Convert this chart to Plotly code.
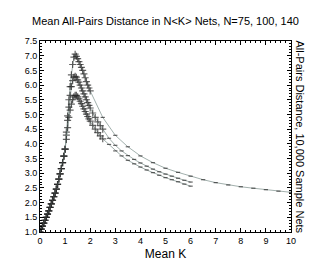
import plotly.graph_objects as go

# Shared rising section (K = 0 .. 1.0)
k_rise = [0.00, 0.05, 0.10, 0.15, 0.20, 0.25, 0.30, 0.35, 0.40, 0.45, 0.50,
          0.55, 0.60, 0.65, 0.70, 0.75, 0.80, 0.85, 0.90, 0.95, 1.00]
d_rise = [1.00, 1.10, 1.20, 1.30, 1.40, 1.50, 1.61, 1.72, 1.84, 1.96, 2.08,
          2.20, 2.32, 2.46, 2.62, 2.80, 2.98, 3.16, 3.36, 3.58, 3.82]

# N = 140
k_140 = [1.05, 1.10, 1.15, 1.20, 1.25, 1.30, 1.35, 1.40, 1.45, 1.50, 1.55, 1.60,
         1.65, 1.70, 1.75, 1.80, 1.85, 1.90, 1.95, 2.00,
         2.5, 3.0, 3.5, 4.0, 4.5, 5.0, 5.5, 6.0, 6.5, 7.0, 7.5, 8.0, 8.5, 9.0, 9.5, 10.0]
d_140 = [4.40, 4.95, 5.50, 5.95, 6.35, 6.70, 6.95, 7.05, 6.98, 6.90, 6.80, 6.70,
         6.60, 6.50, 6.38, 6.25, 6.12, 6.00, 5.90, 5.80,
         4.90, 4.29, 3.90, 3.59, 3.36, 3.17, 3.03, 2.90, 2.78, 2.68, 2.60, 2.54, 2.49, 2.44, 2.39, 2.35]

# N = 100
k_100 = [1.05, 1.10, 1.15, 1.20, 1.25, 1.30, 1.35, 1.40, 1.45, 1.50, 1.55, 1.60,
         1.65, 1.70, 1.75, 1.80, 1.85, 1.90, 1.95, 2.00, 2.10, 2.20, 2.30, 2.40, 2.50,
         2.75, 3.00, 3.25, 3.50, 3.75, 4.00, 4.25, 4.50, 4.75, 5.00, 5.25, 5.50, 5.75, 6.00]
d_100 = [4.30, 4.80, 5.25, 5.65, 5.95, 6.15, 6.27, 6.30, 6.27, 6.18, 6.10, 6.00,
         5.90, 5.80, 5.70, 5.60, 5.50, 5.40, 5.31, 5.22, 5.05, 4.90, 4.75, 4.62, 4.50,
         4.19, 3.95, 3.76, 3.60, 3.47, 3.35, 3.24, 3.14, 3.05, 2.97, 2.90, 2.83, 2.76, 2.70]

# N = 75
k_75 = [1.05, 1.10, 1.15, 1.20, 1.25, 1.30, 1.35, 1.40, 1.45, 1.50, 1.55, 1.60,
        1.65, 1.70, 1.75, 1.80, 1.85, 1.90, 1.95, 2.00, 2.10, 2.20, 2.30, 2.40, 2.50,
        2.75, 3.00, 3.25, 3.50, 3.75, 4.00, 4.25, 4.50, 4.75, 5.00, 5.25, 5.50, 5.75, 6.00]
d_75 = [4.15, 4.55, 4.90, 5.15, 5.35, 5.50, 5.60, 5.65, 5.65, 5.60, 5.53, 5.45,
        5.37, 5.28, 5.19, 5.10, 5.01, 4.93, 4.85, 4.77, 4.63, 4.50, 4.38, 4.27, 4.17,
        3.98, 3.76, 3.59, 3.44, 3.32, 3.21, 3.11, 3.02, 2.93, 2.85, 2.78, 2.71, 2.63, 2.56]

series = [("N=140", k_140, d_140, 2.0),
          ("N=100", k_100, d_100, 2.5),
          ("N=75", k_75, d_75, 2.5)]

LINE_COLOR = "#8a9c98"
fig = go.Figure()
for name, ks, ds, dense_lim in series:
    x = k_rise + ks
    y = d_rise + ds
    syms = ["cross-thin-open" if k <= dense_lim else "line-ew-open" for k in x]
    sizes = [5 if k <= dense_lim else 3 for k in x]
    fig.add_trace(go.Scatter(
        x=x, y=y, mode="lines+markers", name=name,
        line=dict(color=LINE_COLOR, width=0.8),
        marker=dict(symbol=syms, size=sizes, color="#222222",
                    line=dict(color="#222222", width=1.2)),
        showlegend=False,
    ))

fig.update_layout(
    width=314, height=262,
    margin=dict(l=32, r=31, t=33, b=32),
    paper_bgcolor="white", plot_bgcolor="white",
    font=dict(family="Liberation Sans, Arial, sans-serif", color="black"),
    title=dict(text="Mean All-Pairs Distance in N&lt;K&gt; Nets, N=75, 100, 140",
               x=0.5, xref="paper", xanchor="center", y=1 - 13 / 262, yanchor="middle",
               font=dict(size=11, color="black")),
    xaxis=dict(range=[0, 10], dtick=1, tick0=0, ticks="inside", ticklen=4,
               tickwidth=1, tickcolor="black", showline=True, linecolor="black",
               linewidth=1, mirror="allticks", showgrid=False, zeroline=False,
               tickfont=dict(size=9, color="black"),
               minor=dict(dtick=0.2, ticks="inside", ticklen=2, tickcolor="black",
                          showgrid=False),
               title=dict(text="Mean K", font=dict(size=12, color="black"),
                          standoff=4)),
    yaxis=dict(range=[1.0, 7.5], dtick=0.5, tick0=1.0, ticks="inside", ticklen=4,
               tickwidth=1, tickcolor="black", showline=True, linecolor="black",
               linewidth=1, mirror="allticks", showgrid=False, zeroline=False,
               tickformat=".1f", tickfont=dict(size=9, color="black"),
               minor=dict(dtick=0.1, ticks="inside", ticklen=2, tickcolor="black",
                          showgrid=False)),
    annotations=[dict(text="All-Pairs Distance, 10,000 Sample Nets",
                      xref="paper", yref="paper", x=1.036, y=0.5,
                      xanchor="center", yanchor="middle",
                      textangle=90, showarrow=False,
                      font=dict(size=11, color="black"))],
)

fig.write_html("out.html")
